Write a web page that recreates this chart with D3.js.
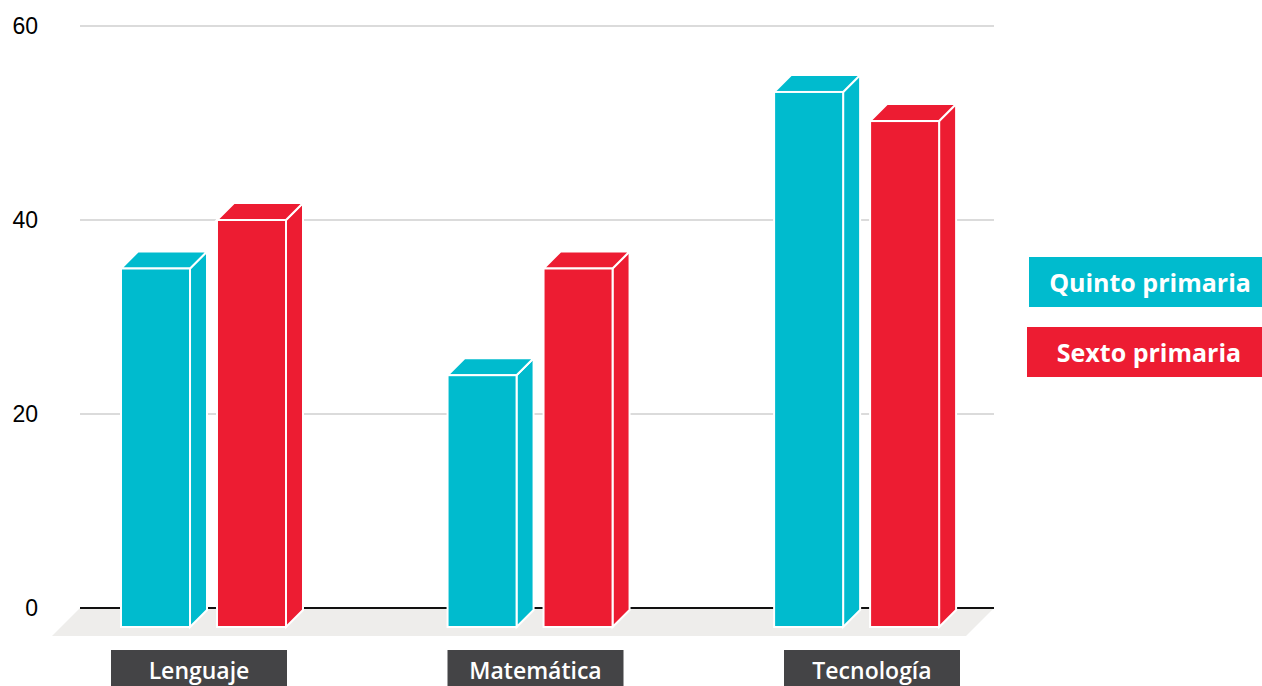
<!DOCTYPE html>
<html><head><meta charset="utf-8">
<script src="https://cdn.jsdelivr.net/npm/d3@7"></script>
<style>html,body{margin:0;padding:0;background:#fff;}svg{display:block;}</style>
</head><body>
<svg id="chart" width="1262" height="686"></svg>
<script>
const categories = ["Lenguaje", "Matemática", "Tecnología"];
const seriesNames = ["Quinto primaria", "Sexto primaria"];
const quinto = [35, 24, 53.2];
const sexto = [40, 35, 50.2];
const yTicks = [0, 20, 40, 60];
const colors = ["#00BBCE", "#ED1C32"];

const svg = d3.select("#chart");
const W = 1262, H = 686;
const plotLeft = 80, plotRight = 994;
const y = d3.scaleLinear().domain([0, 60]).range([608, 26]);
const x = d3.scaleBand().domain(categories).range([121, 956]).paddingInner(0.443).paddingOuter(0);
const xs = d3.scaleBand().domain(seriesNames).range([0, 165]).paddingInner(0.281);
const xl = d3.scalePoint().domain(categories).range([199, 872]);
const depth = 17;
const bottomY = y(0) + 19;

// floor
svg.append("polygon")
  .attr("points", [[plotLeft, y(0)], [plotRight, y(0)], [plotRight - 28, y(0) + 28], [plotLeft - 28, y(0) + 28]].map(p => p.join(",")).join(" "))
  .attr("fill", "#EEEDEB");

// gridlines
svg.append("g").selectAll("line").data(yTicks.filter(t => t > 0)).join("line")
  .attr("x1", plotLeft).attr("x2", plotRight)
  .attr("y1", d => y(d)).attr("y2", d => y(d))
  .attr("stroke", "#CFCFCF").attr("stroke-width", 1.5);
svg.append("line").attr("x1", plotLeft).attr("x2", plotRight)
  .attr("y1", y(0)).attr("y2", y(0)).attr("stroke", "#111").attr("stroke-width", 2);

// y axis labels
const yAxis = d3.axisLeft(y).tickValues(yTicks).tickSize(0).tickPadding(0);
const gy = svg.append("g").attr("transform", "translate(38,0)").call(yAxis);
gy.select(".domain").remove();
gy.selectAll("text").attr("font-family", "Liberation Sans, Arial, sans-serif").attr("font-size", 23).attr("fill", "#000");

// bars
const data = [];
categories.forEach((c, i) => {
  data.push({cat: c, s: seriesNames[0], v: quinto[i], color: colors[0]});
  data.push({cat: c, s: seriesNames[1], v: sexto[i], color: colors[1]});
});
const gb = svg.append("g");
data.forEach(d => {
  const x0 = x(d.cat) + xs(d.s), w = xs.bandwidth(), yt = y(d.v);
  const g = gb.append("g").attr("fill", d.color).attr("stroke", "#fff").attr("stroke-width", 2).attr("stroke-linejoin", "miter");
  g.append("polygon").attr("points", [[x0 + w, yt], [x0 + w + depth, yt - depth], [x0 + w + depth, bottomY - depth], [x0 + w, bottomY]].map(p => p.join(",")).join(" "));
  g.append("polygon").attr("points", [[x0, yt], [x0 + depth, yt - depth], [x0 + w + depth, yt - depth], [x0 + w, yt]].map(p => p.join(",")).join(" "));
  g.append("rect").attr("x", x0).attr("y", yt).attr("width", w).attr("height", bottomY - yt);
});

// category labels
const gl = svg.append("g");
categories.forEach(c => {
  gl.append("rect").attr("x", xl(c) - 88).attr("y", 650).attr("width", 176).attr("height", 40).attr("fill", "#444446");
  gl.append("text").attr("x", xl(c)).attr("y", 679).attr("text-anchor", "middle")
    .attr("font-family", "Open Sans, sans-serif").attr("font-weight", 600).attr("font-size", 23).attr("fill", "#fff").text(c);
});

// legend
const legend = [
  {name: seriesNames[0], color: colors[0], x: 1029, y: 257, tx: 1150},
  {name: seriesNames[1], color: colors[1], x: 1027, y: 327, tx: 1149}
];
legend.forEach(l => {
  svg.append("rect").attr("x", l.x).attr("y", l.y).attr("width", W - l.x).attr("height", 50).attr("fill", l.color);
  svg.append("text").attr("x", l.tx).attr("y", l.y + 35).attr("text-anchor", "middle")
    .attr("font-family", "Open Sans, sans-serif").attr("font-weight", 700).attr("font-size", 25).attr("fill", "#fff").text(l.name);
});
</script>
</body></html>
